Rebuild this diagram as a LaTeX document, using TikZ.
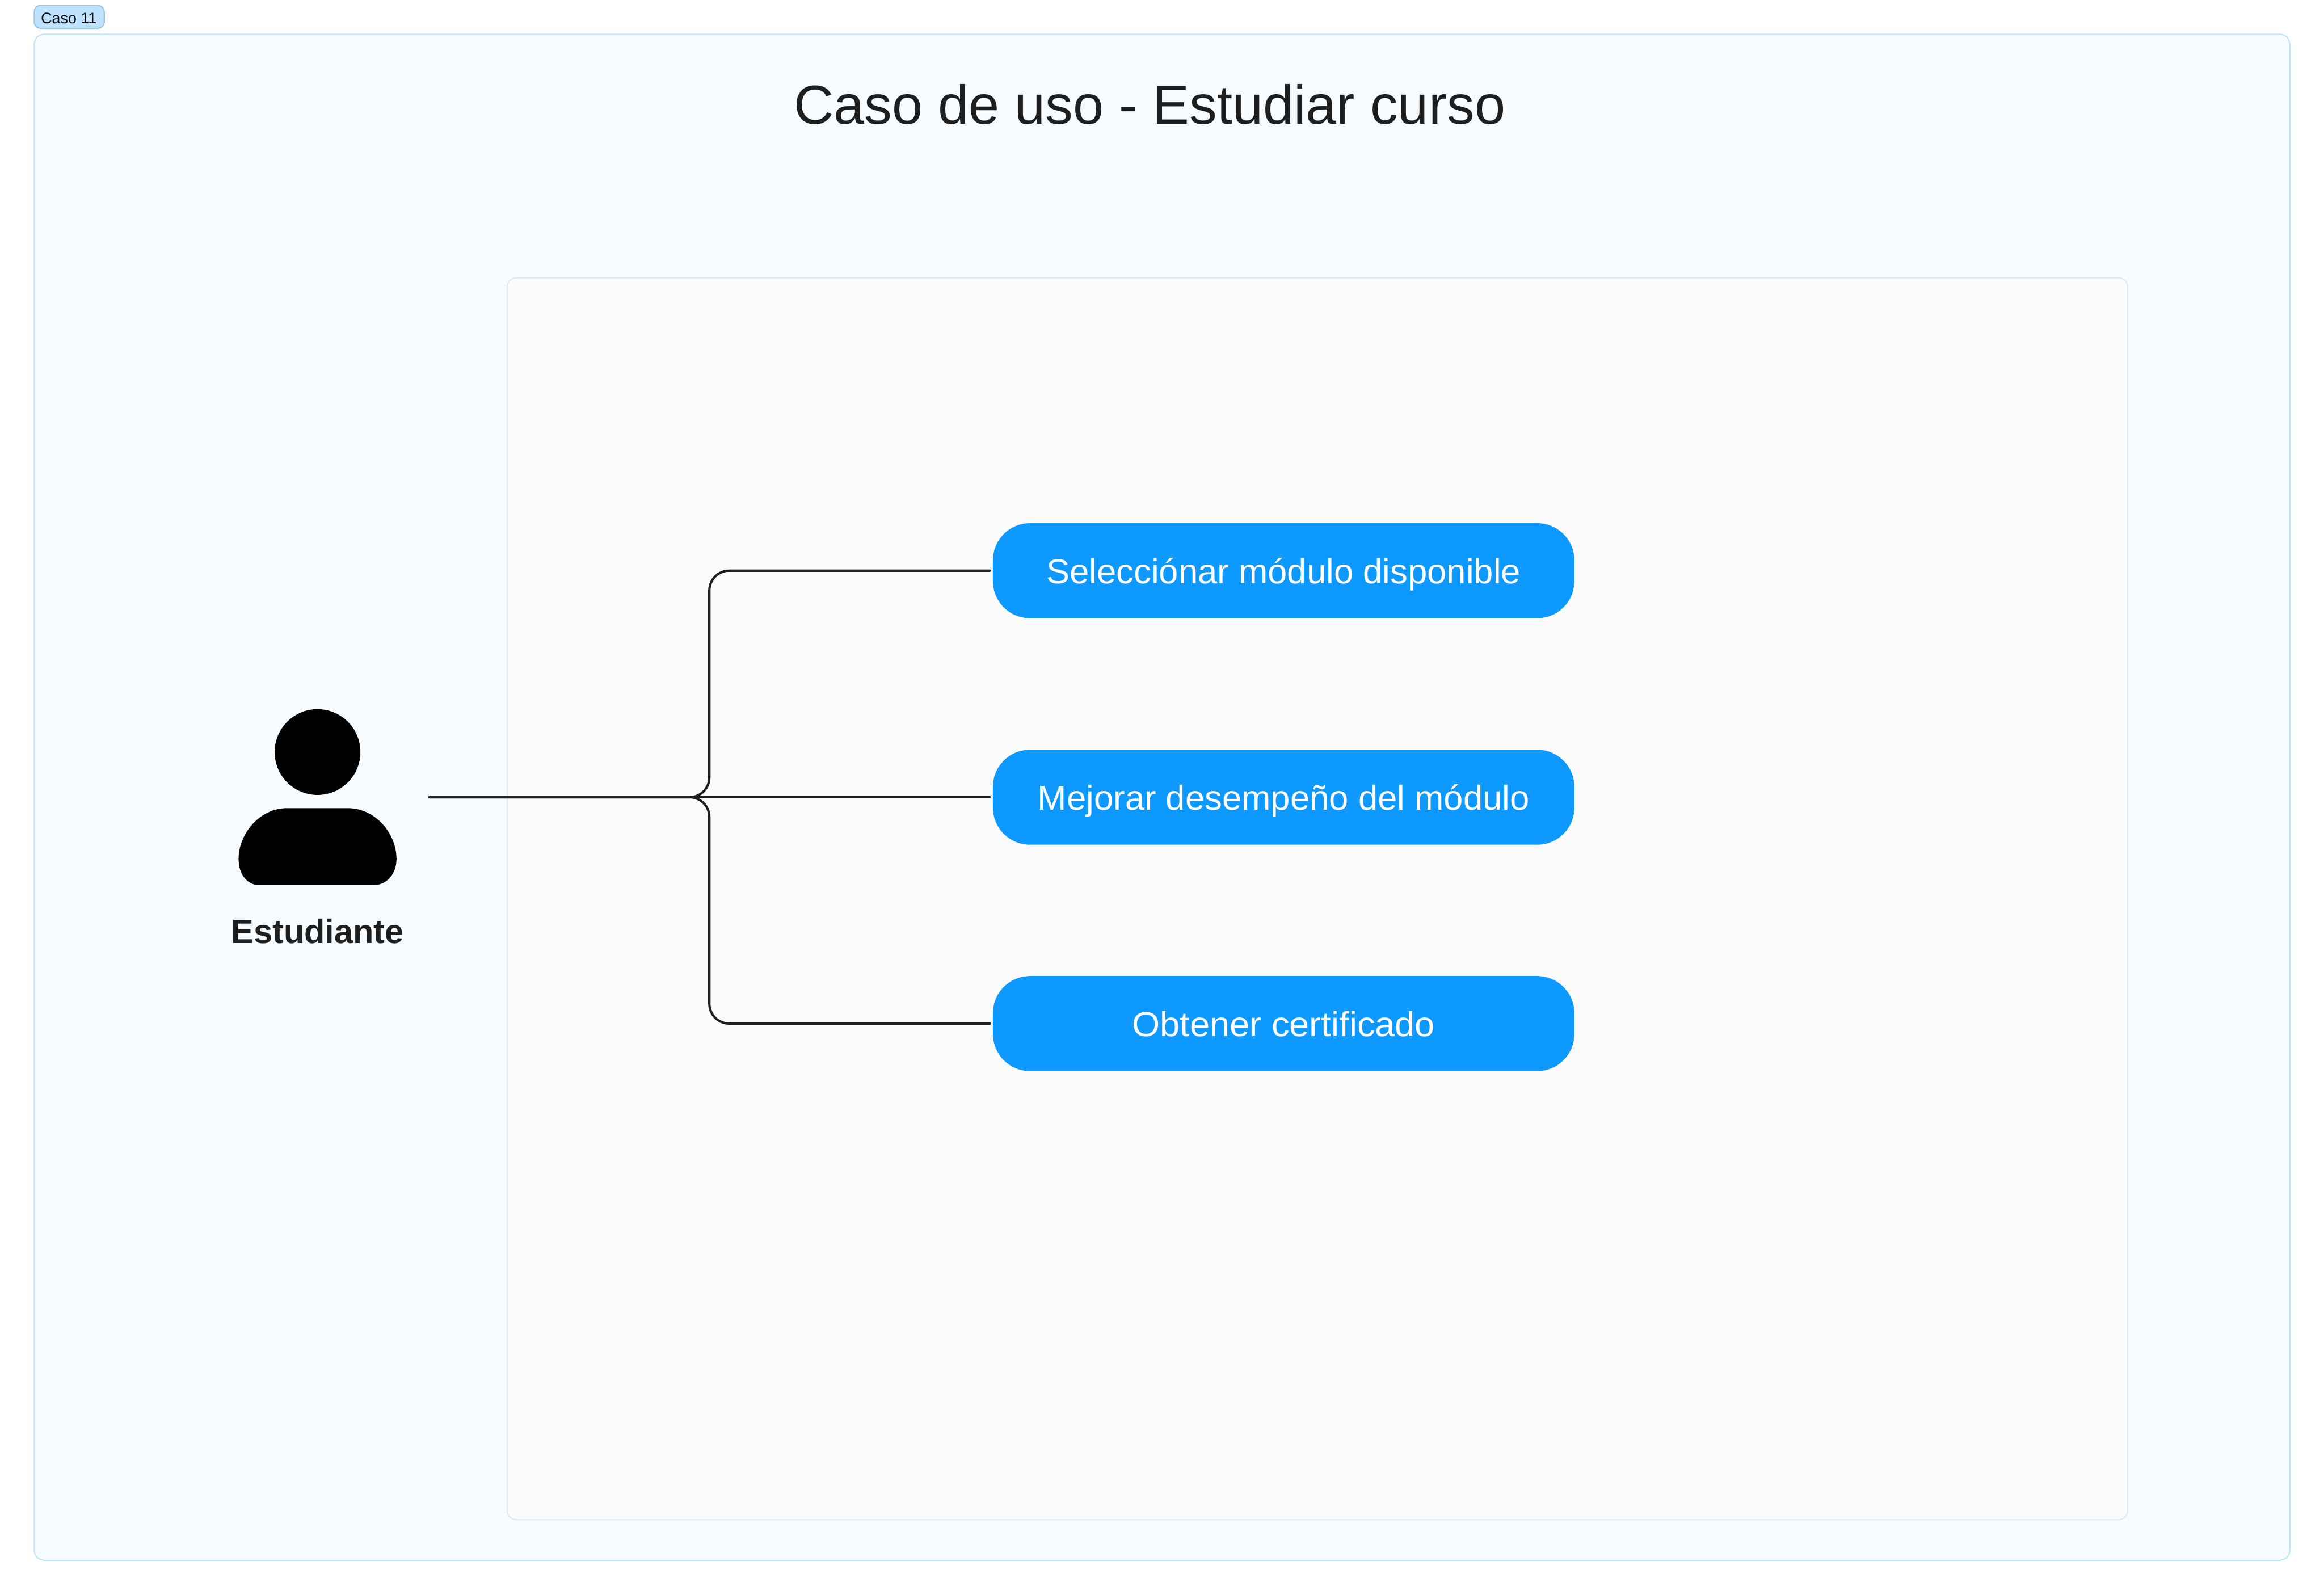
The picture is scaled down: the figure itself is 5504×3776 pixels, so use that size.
\documentclass[tikz,border=0pt]{standalone}
\usepackage{fontspec}
\setmainfont{Liberation Sans}
\newfontfamily\titlefont[FakeStretch=1.005]{Liberation Sans}
\newfontfamily\casefont[FakeStretch=1.01]{Liberation Sans}
\newfontfamily\casefontwide[FakeStretch=1.035,Ligatures=NoCommon]{Liberation Sans}
\definecolor{inkc}{HTML}{1E1E1E}
\definecolor{bluec}{HTML}{0D99FF}
\definecolor{framefill}{HTML}{F5FBFF}
\definecolor{frameline}{HTML}{BDE3FF}
\definecolor{innerfill}{HTML}{FBFBFB}
\definecolor{innerline}{HTML}{E6E6E6}
\definecolor{tagline}{HTML}{9FC3DD}
\tikzset{
  frame/.style={draw=frameline,fill=framefill,line width=0.27pt,rounded corners=2.4pt},
  innerframe/.style={draw=innerline,fill=innerfill,line width=0.27pt,rounded corners=2.2pt},
  tagbox/.style={draw=tagline,fill=frameline,line width=0.27pt,rounded corners=1.5pt},
  usecase/.style={fill=bluec,rounded corners=8.8pt,minimum width=137.7pt,minimum height=22.5pt,inner sep=0pt,text=white,font=\casefont\fontsize{8.2pt}{9pt}\selectfont,text height=6pt,text depth=0pt,anchor=center},
  link/.style={draw=inkc,line width=0.55pt,line cap=round,rounded corners=4.7pt,shorten >=0.55pt},
}
\begin{document}
\begin{tikzpicture}[x=0.1pt,y=-0.1pt]
\useasboundingbox (0,0) rectangle (5504,3776);
\fill[white] (0,0) rectangle (5504,3776);
\draw[frame] (81,81) rectangle (5423,3695);
\draw[innerframe] (1201,658) rectangle (5039,3599);
\draw[tagbox] (81,13) rectangle (247,67);
\node[anchor=base,inner sep=0pt,font=\fontsize{3.6pt}{4pt}\selectfont,text=black] (tag) at (163,56) {Caso 11};
\node[anchor=base,inner sep=0pt,font=\titlefont\fontsize{13pt}{16pt}\selectfont,text=inkc] (title) at (2723,293) {Caso de uso - Estudiar curso};
\node[circle,fill=black,inner sep=0pt,minimum size=20.3pt] (head) at (752,1781) {};
\fill[black] (679,1914) -- (824,1914)
  .. controls (890,1914) and (939,1975) .. (939,2034)
  .. controls (939,2070) and (915,2096) .. (886,2096)
  -- (614,2096)
  .. controls (585,2096) and (565,2070) .. (565,2034)
  .. controls (565,1975) and (615,1914) .. (679,1914) -- cycle;
\node[anchor=base,inner sep=0pt,font=\bfseries\fontsize{8pt}{9pt}\selectfont,text=inkc] (actor) at (752,2234) {Estudiante};
\coordinate (start) at (1017,1888);
\coordinate (jx) at (1680,1888);
\node[usecase] (uc1) at (3040,1351.5) {Selecciónar módulo disponible};
\node[usecase] (uc2) at (3040,1888) {Mejorar desempeño del módulo};
\node[usecase,font=\casefontwide\fontsize{8.2pt}{9pt}\selectfont] (uc3) at (3040,2424) {Obtener certificado};
\draw[link] (start) -- (jx) |- (uc1.west);
\draw[link] (start) -- (uc2.west);
\draw[link] (start) -- (jx) |- (uc3.west);
\end{tikzpicture}
\end{document}
